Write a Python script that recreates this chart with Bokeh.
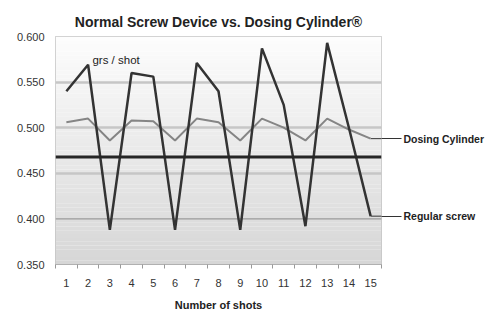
import numpy as np
from bokeh.plotting import figure
from bokeh.models import (Range1d, FixedTicker, Span, Label, LinearAxis,
                          NumeralTickFormatter)
from bokeh.embed import file_html
from bokeh.resources import INLINE

# ---- data ----
shots = list(range(1, 16))
regular_screw = [0.540, 0.569, 0.388, 0.560, 0.556, 0.388, 0.571, 0.540, 0.388,
                 0.587, 0.525, 0.392, 0.593, 0.500, 0.403]
dosing_cylinder = [0.506, 0.510, 0.486, 0.508, 0.507, 0.486, 0.510, 0.506, 0.486,
                   0.510, 0.500, 0.486, 0.510, 0.498, 0.488]
reference_level = 0.468
y_ticks = [0.35, 0.40, 0.45, 0.50, 0.55, 0.60]
title_text = "Normal Screw Device vs. Dosing Cylinder®"
x_title = "Number of shots"
unit_label = "grs / shot"
series_names = ["Dosing Cylinder", "Regular screw"]

FONT = "Liberation Sans"
y0, y1 = 0.35, 0.60
x0, x1 = 0.5, 15.5

p = figure(width=487, height=313, output_backend="svg", toolbar_location=None,
           x_range=Range1d(x0, x1), y_range=Range1d(y0, y1),
           min_border_left=55, min_border_right=104, min_border_top=36,
           min_border_bottom=46, title=title_text)
p.background_fill_color = "white"
p.border_fill_color = "white"
p.outline_line_color = "#c4c4c4"
p.outline_line_width = 1

p.title.align = "center"
p.title.offset = -5
p.title.text_font = FONT
p.title.text_font_size = "14px"
p.title.text_font_style = "bold"
p.title.text_color = "#222222"
p.title.standoff = 13

# gradient background (white at top -> light gray at bottom)
n = 60
edges = np.linspace(y0, y1, n + 1)
cols = []
for i in range(n):
    t = (i + 0.5) / n  # 0 bottom, 1 top
    g = int(round(214 + (253 - 214) * t))
    cols.append("#%02x%02x%02x" % (g, g, g))
p.quad(left=x0, right=x1, bottom=edges[:-1], top=edges[1:], fill_color=cols,
       line_color=None, level="image")

# grid
p.xgrid.visible = False
p.ygrid.ticker = FixedTicker(ticks=[0.45, 0.50, 0.55])
p.ygrid.grid_line_color = "#c6c6c6"
p.ygrid.grid_line_width = 2.5
p.ygrid.level = "underlay"
p.add_layout(Span(location=0.40, dimension="width", line_color="#8a8a8a",
                  line_width=1, level="underlay"))

# axes
p.yaxis.ticker = FixedTicker(ticks=y_ticks)
p.yaxis.formatter = NumeralTickFormatter(format="0.000")
p.yaxis.axis_line_color = None
p.yaxis.major_tick_line_color = None
p.yaxis.minor_tick_line_color = None
p.yaxis.major_label_standoff = 5
p.yaxis.major_label_text_font = FONT
p.yaxis.major_label_text_font_size = "11px"
p.yaxis.major_label_text_color = "#333333"

p.xaxis.ticker = FixedTicker(ticks=shots,
                             minor_ticks=[s - 0.5 for s in shots] + [shots[-1] + 0.5])
p.xaxis.axis_line_color = "#b0b0b0"
p.xaxis.major_tick_out = 0
p.xaxis.major_tick_in = 0
p.xaxis.minor_tick_out = 4
p.xaxis.minor_tick_in = 0
p.xaxis.minor_tick_line_color = "#999999"
p.xaxis.major_label_standoff = 10
p.xaxis.major_label_text_font = FONT
p.xaxis.major_label_text_font_size = "11px"
p.xaxis.major_label_text_color = "#333333"
p.xaxis.axis_label = x_title
p.xaxis.axis_label_standoff = 9
p.xaxis.axis_label_text_font = FONT
p.xaxis.axis_label_text_font_size = "11px"
p.xaxis.axis_label_text_font_style = "bold"
p.xaxis.axis_label_text_color = "#222222"

# series-name axis on the right (labels with leader ticks)
end_values = [dosing_cylinder[-1], regular_screw[-1]]
raxis = LinearAxis(ticker=FixedTicker(ticks=end_values),
                   major_label_overrides={v: s for v, s in zip(end_values, series_names)})
raxis.axis_line_color = None
raxis.minor_tick_line_color = None
raxis.major_tick_in = 0
raxis.major_tick_out = 20
raxis.major_tick_line_color = "#333333"
raxis.major_tick_line_width = 1
raxis.major_label_standoff = 2
raxis.major_label_text_font = FONT
raxis.major_label_text_font_size = "10.5px"
raxis.major_label_text_font_style = "bold"
raxis.major_label_text_color = "#222222"
p.add_layout(raxis, "right")

# reference level line
p.add_layout(Span(location=reference_level, dimension="width",
                  line_color="#262626", line_width=3))

# leader lines inside the frame
p.segment(x0=[shots[-1]] * 2, y0=end_values, x1=[x1] * 2, y1=end_values,
          line_color="#333333", line_width=1)

# series
p.line(shots, dosing_cylinder, line_color="#858585", line_width=2)
p.line(shots, regular_screw, line_color="#333333", line_width=2.5)

p.add_layout(Label(x=2.2, y=0.574, text=unit_label, text_align="left",
                   text_baseline="middle", text_font=FONT, text_font_size="11.5px",
                   text_color="#222222"))

open("out.html", "w").write(file_html(p, INLINE))
